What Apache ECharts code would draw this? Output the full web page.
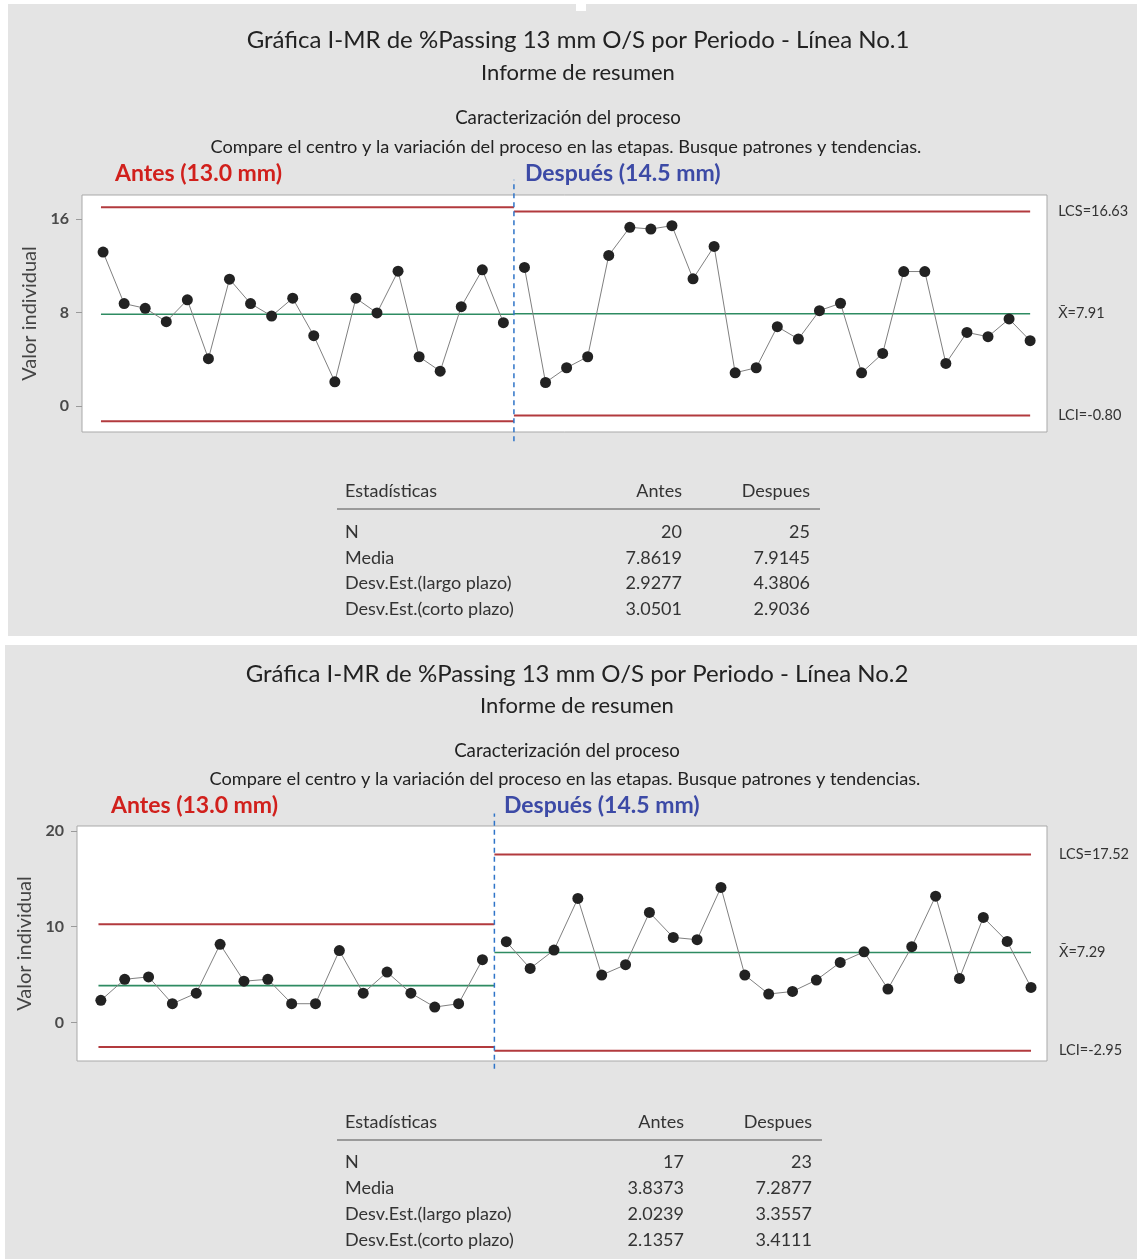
<!DOCTYPE html>
<html><head><meta charset="utf-8">
<script src="https://cdn.jsdelivr.net/npm/echarts@6/dist/echarts.min.js"></script>
<style>
html,body{margin:0;padding:0;background:#fff;}
#wrap{position:relative;width:1137px;height:1259px;overflow:hidden;}
.panel{position:absolute;background:#e4e4e4;}
#chart{position:absolute;left:0;top:0;width:1137px;height:1259px;}
</style></head><body>
<div id="wrap">
<div class="panel" style="left:8px;top:4px;width:1129px;height:632px"></div>
<div class="panel" style="left:5px;top:645px;width:1132px;height:614px"></div>
<div style="position:absolute;left:576px;top:0;width:10px;height:11px;background:#fff"></div>
<div id="chart"></div>
</div>
<script>
// ---------- DATA ----------
const titles = ['Gráfica I-MR de %Passing 13 mm O/S por Periodo - Línea No.1',
                'Gráfica I-MR de %Passing 13 mm O/S por Periodo - Línea No.2'];
const subtitle = 'Informe de resumen';
const sectionTitle = 'Caracterización del proceso';
const sectionText = 'Compare el centro y la variación del proceso en las etapas. Busque patrones y tendencias.';
const stageNames = ['Antes (13.0 mm)', 'Después (14.5 mm)'];
const yAxisName = 'Valor individual';

// Línea No.1
const antes1 = [13.17,8.77,8.37,7.23,9.09,4.06,10.86,8.77,7.71,9.23,6.03,2.09,9.23,7.97,11.54,4.23,3.00,8.51,11.66,7.14];
const despues1 = [11.86,2.03,3.29,4.23,12.89,15.29,15.14,15.43,10.89,13.66,2.86,3.29,6.80,5.74,8.17,8.80,2.86,4.51,11.51,11.51,3.66,6.31,5.94,7.46,5.60];
const limAntes1 = [17.01, 7.86, -1.29];     // LCS, media, LCI
const limDespues1 = [16.63, 7.91, -0.80];
const yTicks1 = [0, 8, 16];

// Línea No.2
const antes2 = [2.30,4.50,4.75,1.95,3.05,8.15,4.30,4.50,1.95,1.95,7.50,3.05,5.25,3.05,1.60,1.95,6.55];
const despues2 = [8.42,5.63,7.55,12.94,4.94,6.02,11.48,8.87,8.63,14.09,4.94,2.96,3.23,4.42,6.26,7.37,3.48,7.90,13.18,4.59,10.96,8.45,3.65];
const limAntes2 = [10.24, 3.84, -2.57];
const limDespues2 = [17.52, 7.29, -2.95];
const yTicks2 = [0, 10, 20];

// Tablas
const statHeader = ['Estadísticas', 'Antes', 'Despues'];
const statLabels = ['N', 'Media', 'Desv.Est.(largo plazo)', 'Desv.Est.(corto plazo)'];
const statsAntes1 = ['20', '7.8619', '2.9277', '3.0501'];
const statsDespues1 = ['25', '7.9145', '4.3806', '2.9036'];
const statsAntes2 = ['17', '3.8373', '2.0239', '2.1357'];
const statsDespues2 = ['23', '7.2877', '3.3557', '3.4111'];

// ---------- LAYOUT ----------
const FONT = 'Lato, "Noto Sans", sans-serif';
const layouts = [
  {grid:{left:82, top:195, width:965, height:237}, yMin:-2.2, yMax:18.05, xMax:45.8, nameGap:39,
   titleY:40, titleX:578, subY:73, secY:118, secTextY:147, stageY:174, antesX:115, despX:525,
   tabHeadY:491, tabLineY:509, tabRowY:[532,558,583,609], tabL:345, tabA:682, tabD:810, lineL:337, lineR:820},
  {grid:{left:77, top:826, width:970, height:235}, yMin:-4.03, yMax:20.5, xMax:40.67, nameGap:38,
   titleY:674, titleX:577, subY:706, secY:751, secTextY:779, stageY:806, antesX:111, despX:504,
   tabHeadY:1122, tabLineY:1140, tabRowY:[1162,1188,1214,1240], tabL:345, tabA:684, tabD:812, lineL:337, lineR:822}
];
const datasets = [
  {antes:antes1, desp:despues1, limA:limAntes1, limD:limDespues1, ticks:yTicks1, sA:statsAntes1, sD:statsDespues1, title:titles[0]},
  {antes:antes2, desp:despues2, limA:limAntes2, limD:limDespues2, ticks:yTicks2, sA:statsAntes2, sD:statsDespues2, title:titles[1]}
];

const grids = [], xAxes = [], yAxes = [], series = [], graphics = [];
const limitColors = ['#b23a3e', '#2e8b62', '#b23a3e'];
const limitPrefix = ['LCS=', 'X\u0304=', 'LCI='];

function txt(text, x, y, size, opts) {
  opts = opts || {};
  graphics.push({type:'text', x:x, y:y, z:10, style:{
    text:text, fill:opts.color || '#222', textAlign:opts.align || 'left', textVerticalAlign:'middle',
    font:(opts.weight || 'normal') + ' ' + size + 'px ' + FONT}});
}

datasets.forEach((d, k) => {
  const L = layouts[k];
  const nA = d.antes.length, N = nA + d.desp.length, split = nA + 0.5;
  grids.push(Object.assign({show:true, backgroundColor:'#fff', borderColor:'#a9a9a9', borderWidth:1}, L.grid));
  xAxes.push({type:'value', gridIndex:k, min:0, max:L.xMax, show:false});
  yAxes.push({type:'value', gridIndex:k, min:L.yMin, max:L.yMax,
    axisLine:{show:false}, splitLine:{show:false},
    axisTick:{show:true, customValues:d.ticks, length:6, lineStyle:{color:'#9a9a9a'}},
    axisLabel:{customValues:d.ticks, margin:13, fontSize:16, fontWeight:'bold', color:'#4a4a4a', fontFamily:FONT},
    name:yAxisName, nameLocation:'middle', nameGap:L.nameGap,
    nameTextStyle:{fontSize:20, color:'#444', fontFamily:FONT}});

  // control limits: one segment per stage
  [0,1,2].forEach(j => {
    const a = d.limA[j], b = d.limD[j];
    const base = {type:'line', xAxisIndex:k, yAxisIndex:k, symbol:'none', silent:true, z:2,
      lineStyle:{color:limitColors[j], width: j === 1 ? 1.6 : 2}};
    series.push(Object.assign({}, base, {data:[[0.9, a], [split, a]]}));
    series.push(Object.assign({}, base, {data:[[split, b], [N, b]],
      endLabel:{show:true, distance:28, fontSize:14.5, color:'#333', fontFamily:FONT,
        formatter: p => limitPrefix[j] + p.value[1].toFixed(2)}}));
  });
  // stage divider
  series.push({type:'line', xAxisIndex:k, yAxisIndex:k, symbol:'none', silent:true, z:4, clip:false,
    lineStyle:{color:'#2f74c8', width:1.5, type:[5,4]},
    data:[[split, L.yMin - 0.8], [split, L.yMax + 1.3]]});
  // individual values
  [[d.antes, 1], [d.desp, nA + 1]].forEach(([arr, start]) => {
    series.push({type:'line', xAxisIndex:k, yAxisIndex:k, z:5, symbol:'circle', symbolSize:11,
      itemStyle:{color:'#222'}, lineStyle:{color:'#808080', width:1},
      data:arr.map((v, i) => [start + i, v])});
  });

  // texts
  txt(d.title, L.titleX, L.titleY, 24, {align:'center'});
  txt(subtitle, L.titleX, L.subY, 22, {align:'center'});
  txt(sectionTitle, L.titleX - 10, L.secY, 18.7, {align:'center'});
  txt(sectionText, L.titleX - 12, L.secTextY, 18.2, {align:'center'});
  txt(stageNames[0], L.antesX, L.stageY, 23, {color:'#d1201c', weight:'bold'});
  txt(stageNames[1], L.despX, L.stageY, 23, {color:'#3c4aa6', weight:'bold'});

  // table
  txt(statHeader[0], L.tabL, L.tabHeadY, 18, {color:'#333'});
  txt(statHeader[1], L.tabA, L.tabHeadY, 18, {color:'#333', align:'right'});
  txt(statHeader[2], L.tabD, L.tabHeadY, 18, {color:'#333', align:'right'});
  graphics.push({type:'line', z:10, shape:{x1:L.lineL, y1:L.tabLineY, x2:L.lineR, y2:L.tabLineY},
    style:{stroke:'#9a9a9a', lineWidth:2}});
  statLabels.forEach((lab, r) => {
    txt(lab, L.tabL, L.tabRowY[r], 18, {color:'#333'});
    txt(d.sA[r], L.tabA, L.tabRowY[r], 18, {color:'#333', align:'right'});
    txt(d.sD[r], L.tabD, L.tabRowY[r], 18, {color:'#333', align:'right'});
  });
});

const chart = echarts.init(document.getElementById('chart'), null, {renderer:'canvas'});
chart.setOption({
  backgroundColor:'transparent', animation:false,
  grid:grids, xAxis:xAxes, yAxis:yAxes, series:series, graphic:graphics
});
</script>
</body></html>
